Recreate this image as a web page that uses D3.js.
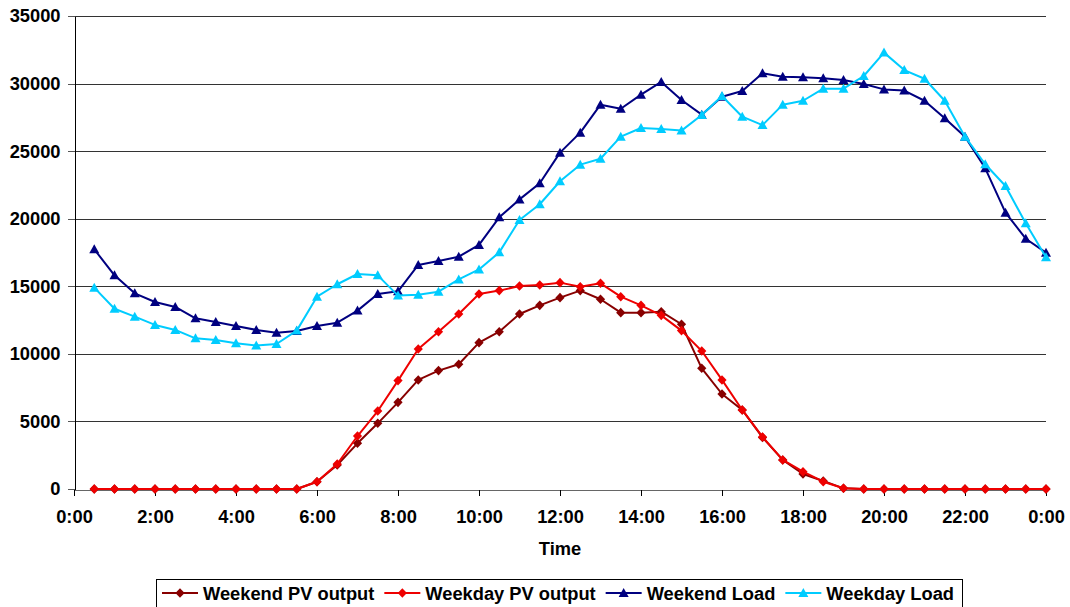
<!DOCTYPE html>
<html>
<head>
<meta charset="utf-8">
<script src="https://cdn.jsdelivr.net/npm/d3@7"></script>
<style>
  body { margin: 0; background: #fff; }
  svg { display: block; font-family: "Liberation Sans", Arial, sans-serif; }
</style>
</head>
<body>
<div id="chart"></div>
<script>
const width = 1070;
const height = 607;

// half-hour slots, 0:30 .. 24:00
const times = [
  "0:30","1:00","1:30","2:00","2:30","3:00","3:30","4:00","4:30","5:00","5:30","6:00",
  "6:30","7:00","7:30","8:00","8:30","9:00","9:30","10:00","10:30","11:00","11:30","12:00",
  "12:30","13:00","13:30","14:00","14:30","15:00","15:30","16:00","16:30","17:00","17:30","18:00",
  "18:30","19:00","19:30","20:00","20:30","21:00","21:30","22:00","22:30","23:00","23:30","24:00"
];

const weekendPV = [
  0,0,0,0,0,0,0,0,0,0,0,
  540,1780,3380,4860,6410,8070,8760,9230,10830,11640,12950,13590,14160,14680,
  14040,13050,13050,13120,12190,8930,7030,5850,3820,2150,1110,590,50,
  0,0,0,0,0,0,0,0,0,0
];
const weekdayPV = [
  0,0,0,0,0,0,0,0,0,0,0,
  540,1850,3920,5770,8020,10360,11640,12950,14430,14680,15020,15100,15270,14970,
  15220,14230,13590,12850,11720,10210,8070,5850,3850,2150,1280,540,50,
  0,0,0,0,0,0,0,0,0,0
];
const weekendLoad = [
  17740,15810,14480,13840,13470,12630,12360,12060,11770,11570,11690,12060,12310,13200,14430,14630,
  16580,16870,17190,18060,20100,21430,22620,24890,26370,28440,28140,29180,30120,28780,27700,29030,
  29450,30760,30510,30460,30390,30260,29970,29570,29480,28730,27430,26070,23730,20450,18520,17490
];
const weekdayLoad = [
  14900,13340,12750,12140,11770,11150,11030,10780,10610,10730,11720,14230,15150,15910,15810,14310,
  14380,14600,15510,16250,17510,19910,21070,22770,24000,24440,26070,26710,26640,26520,27670,29080,
  27550,26930,28440,28730,29620,29620,30560,32290,31000,30360,28730,26070,24030,22420,19660,17150
];

const xTicks = [0,2,4,6,8,10,12,14,16,18,20,22,24];
const xTickLabels = ["0:00","2:00","4:00","6:00","8:00","10:00","12:00","14:00","16:00","18:00","20:00","22:00","0:00"];
const yTicks = [0,5000,10000,15000,20000,25000,30000,35000];

const series = [
  { name: "Weekend PV output", values: weekendPV, color: "#880000", shape: "diamond" },
  { name: "Weekday PV output", values: weekdayPV, color: "#ee0000", shape: "diamond" },
  { name: "Weekend Load", values: weekendLoad, color: "#000080", shape: "triangle" },
  { name: "Weekday Load", values: weekdayLoad, color: "#00ccff", shape: "triangle" }
];

const hours = times.map(t => { const [h, m] = t.split(":"); return +h + (+m) / 60; });

const plot = { left: 74, right: 1046, top: 16, bottom: 489 };

const x = d3.scaleLinear().domain([0, 24]).range([plot.left, plot.right]);
const y = d3.scaleLinear().domain([0, 35000]).range([plot.bottom, plot.top]);

const svg = d3.select("#chart").append("svg")
    .attr("width", width)
    .attr("height", height);

// gridlines
svg.append("g")
  .selectAll("line")
  .data(yTicks.filter(d => d > 0))
  .join("line")
    .attr("x1", plot.left).attr("x2", plot.right)
    .attr("y1", d => Math.round(y(d)) + 0.5).attr("y2", d => Math.round(y(d)) + 0.5)
    .attr("stroke", "#333")
    .attr("shape-rendering", "crispEdges");

// y axis
const yAxis = svg.append("g")
    .attr("transform", `translate(${plot.left + 0.5},0)`)
    .call(d3.axisLeft(y).tickValues(yTicks).tickSize(7).tickSizeOuter(0).tickPadding(7).tickFormat(d3.format("d")));

// x axis
const xAxis = svg.append("g")
    .attr("transform", `translate(0,${plot.bottom + 0.5})`)
    .call(d3.axisBottom(x).tickValues(xTicks).tickSize(6).tickSizeOuter(0).tickPadding(15)
      .tickFormat((d, i) => xTickLabels[i]));

[yAxis, xAxis].forEach(g => {
  g.selectAll("text")
    .attr("font-size", 18.3)
    .attr("font-weight", "bold")
    .attr("font-family", "Liberation Sans, Arial, sans-serif")
    .attr("fill", "#000");
  g.selectAll("line, path").attr("stroke", "#000").attr("shape-rendering", "crispEdges");
});
xAxis.select(".domain").attr("stroke", "#666");
yAxis.selectAll(".tick line").attr("stroke", "#555");

// axis title
svg.append("text")
    .attr("x", (plot.left + plot.right) / 2)
    .attr("y", 555)
    .attr("text-anchor", "middle")
    .attr("font-size", 18.3)
    .attr("font-weight", "bold")
    .text("Time");

function markerPath(shape) {
  if (shape === "diamond") return "M0,-4.8L4.6,0L0,4.8L-4.6,0Z";
  return "M0,-5L5,4L-5,4Z";
}

const line = d3.line()
    .x((d, i) => x(hours[i]))
    .y(d => y(d));

series.forEach(s => {
  const g = svg.append("g");
  g.append("path")
      .attr("d", line(s.values))
      .attr("fill", "none")
      .attr("stroke", s.color)
      .attr("stroke-width", 2)
      .attr("stroke-linejoin", "round");
  g.selectAll("path.mk")
    .data(s.values)
    .join("path")
      .attr("class", "mk")
      .attr("transform", (d, i) => `translate(${x(hours[i])},${y(d)})`)
      .attr("d", markerPath(s.shape))
      .attr("fill", s.color);
});

// legend
const legend = svg.append("g");
legend.append("rect")
    .attr("x", 156.5).attr("y", 579.5)
    .attr("width", 806).attr("height", 40)
    .attr("fill", "#fff")
    .attr("stroke", "#000");

let lx = 162;
series.forEach(s => {
  const cy = 593;
  legend.append("line")
      .attr("x1", lx).attr("x2", lx + 36)
      .attr("y1", cy).attr("y2", cy)
      .attr("stroke", s.color).attr("stroke-width", 2);
  legend.append("path")
      .attr("transform", `translate(${lx + 18},${cy})`)
      .attr("d", markerPath(s.shape))
      .attr("fill", s.color);
  const t = legend.append("text")
      .attr("x", lx + 41)
      .attr("y", cy + 6.5)
      .attr("font-size", 18.3)
      .attr("font-weight", "bold")
      .text(s.name);
  lx += 41 + t.node().getComputedTextLength() + 10;
});
</script>
</body>
</html>
